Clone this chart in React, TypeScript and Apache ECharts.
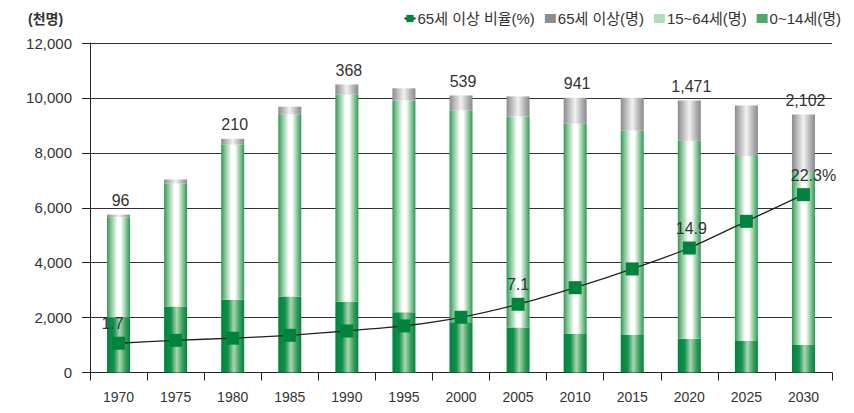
import React, { useEffect, useRef } from "react";
import * as echarts from "echarts";

const years = ["1970", "1975", "1980", "1985", "1990", "1995", "2000", "2005", "2010", "2015", "2020", "2025", "2030"];
const age0to14 = [2000, 2400, 2645, 2765, 2575, 2195, 1830, 1635, 1405, 1370, 1225, 1150, 1005];
const age15to64 = [3654, 4480, 5655, 6640, 7547, 7715, 7721, 7690, 7659, 7440, 7214, 6735, 6293];
const age65plus = [96, 150, 210, 275, 368, 440, 539, 730, 941, 1195, 1471, 1840, 2102];
const elderlyShare = [1.7, 2.1, 2.4, 2.8, 3.4, 4.1, 5.3, 7.1, 9.4, 12.0, 14.9, 18.6, 22.3];
const labeledElderlyYears = ["1970", "1980", "1990", "2000", "2010", "2020", "2030"];
const shareLabelText: Record<string, string> = { "1970": "1.7", "2005": "7.1", "2020": "14.9", "2030": "22.3%" };

const FONT = "'Liberation Sans', Arial, 'Noto Sans CJK KR', sans-serif";
const TEXT = "#333333";

function fmt(n: number): string {
  return String(n).replace(/\B(?=(\d{3})+(?!\d))/g, ",");
}

function hGrad(stops: [number, string][]) {
  return new echarts.graphic.LinearGradient(0, 0, 1, 0, stops.map(([offset, color]) => ({ offset, color })));
}

export default function App() {
  const ref = useRef<HTMLDivElement>(null);
  useEffect(() => {
    document.body.style.margin = "0";
    if (!ref.current) return;
    const chart = echarts.init(ref.current, undefined, { renderer: "svg" });

    const greenDark = hGrad([[0, "#00843d"], [0.3, "#13904c"], [0.55, "#a9d6b3"], [0.8, "#3a9e5c"], [1, "#00843d"]]);
    const greenLight = hGrad([[0, "#2a9a53"], [0.15, "#7cc08f"], [0.45, "#ffffff"], [0.6, "#ffffff"], [0.85, "#7cc08f"], [1, "#2a9a53"]]);
    const grey = hGrad([[0, "#8a8a8e"], [0.2, "#b5b5b8"], [0.5, "#f2f2f2"], [0.8, "#b0b0b3"], [1, "#8a8a8e"]]);

    const labelOffsets: Record<string, number[]> = { "1970": [-6, 0], "2005": [0, 0], "2020": [2, 0], "2030": [10, 0] };

    const option: any = {
      animation: false,
      textStyle: { fontFamily: FONT },
      grid: { left: 90, right: 22, top: 43, bottom: 40.5, containLabel: false },
      legend: {
        right: 8,
        top: 6,
        itemWidth: 11,
        itemHeight: 9,
        itemGap: 10,
        textStyle: { fontSize: 15, color: TEXT, fontFamily: FONT, padding: [0, 0, 0, -3] },
        data: [
          { name: "65세 이상 비율(%)", itemStyle: { color: "#00843d" }, lineStyle: { color: "#222222" } },
          { name: "65세 이상(명)", icon: "rect", itemStyle: { color: "#8d8d8f" } },
          { name: "15~64세(명)", icon: "rect", itemStyle: { color: "#b4dcbc" } },
          { name: "0~14세(명)", icon: "rect", itemStyle: { color: "#4fa96a" } },
        ],
      },
      graphic: [
        {
          type: "text",
          left: 28,
          top: 12,
          style: { text: "(천명)", fontSize: 14, fontWeight: "bold", fill: TEXT, fontFamily: FONT },
        },
      ],
      xAxis: {
        type: "category",
        data: years,
        boundaryGap: true,
        axisLine: { lineStyle: { color: "#222222", width: 1 } },
        axisTick: { show: true, length: 8, lineStyle: { color: "#222222" } },
        axisLabel: { fontSize: 14, color: TEXT, margin: 17, fontFamily: FONT },
        splitLine: { show: false },
      },
      yAxis: [
        {
          type: "value",
          min: 0,
          max: 12000,
          interval: 2000,
          axisLine: { show: true, lineStyle: { color: "#222222", width: 1 } },
          axisTick: { show: true, length: 8, lineStyle: { color: "#222222" } },
          axisLabel: { fontSize: 15, color: TEXT, margin: 18, fontFamily: FONT, formatter: (v: number) => fmt(v) },
          splitLine: { show: true, lineStyle: { color: "#333333", width: 1 } },
        },
        {
          type: "value",
          min: -2.356,
          max: 43.32,
          show: false,
          splitLine: { show: false },
        },
      ],
      series: [
        {
          name: "0~14세(명)",
          type: "bar",
          stack: "pop",
          barWidth: 23,
          data: age0to14,
          itemStyle: { color: greenDark },
        },
        {
          name: "15~64세(명)",
          type: "bar",
          stack: "pop",
          barWidth: 23,
          data: age15to64,
          itemStyle: { color: greenLight },
        },
        {
          name: "65세 이상(명)",
          type: "bar",
          stack: "pop",
          barWidth: 23,
          data: age65plus.map((v, i) => ({
            value: v,
            label: {
              show: labeledElderlyYears.includes(years[i]),
              position: "top",
              distance: 6,
              offset: [2, 0],
              formatter: () => fmt(v),
              fontSize: 16,
              color: TEXT,
              fontFamily: FONT,
            },
          })),
          itemStyle: { color: grey },
        },
        {
          name: "65세 이상 비율(%)",
          type: "line",
          yAxisIndex: 1,
          smooth: 0.2,
          symbol: "rect",
          symbolSize: 13,
          z: 10,
          lineStyle: { color: "#222222", width: 1.3 },
          itemStyle: { color: "#00843d" },
          data: elderlyShare.map((v, i) => {
            const t = shareLabelText[years[i]];
            return {
              value: v,
              label: {
                show: !!t,
                position: "top",
                distance: 5,
                offset: labelOffsets[years[i]] || [0, 0],
                formatter: () => t || "",
                fontSize: 16,
                color: TEXT,
                fontFamily: FONT,
              },
            };
          }),
        },
      ],
    };

    chart.setOption(option);
    return () => chart.dispose();
  }, []);

  return <div ref={ref} style={{ width: 854, height: 413 }} />;
}
